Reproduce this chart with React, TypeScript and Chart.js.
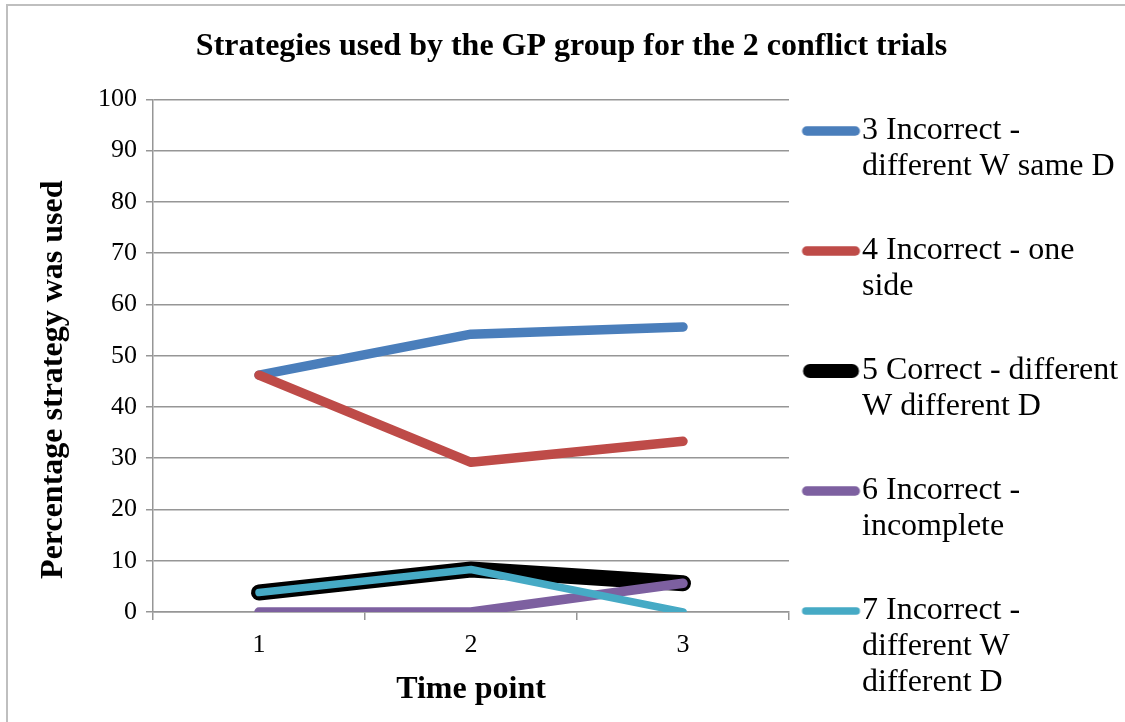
import React, { useEffect, useRef } from 'react';
import { Chart, registerables } from 'chart.js';

Chart.register(...registerables);

const categories = ['1', '2', '3'];
const seriesNames = [
  '3 Incorrect - different W same D',
  '4 Incorrect - one side',
  '5 Correct - different W different D',
  '6 Incorrect - incomplete',
  '7 Incorrect - different W different D',
];
const legendLines = [
  ['3 Incorrect -', 'different W same D', ''],
  ['4 Incorrect - one', 'side', ''],
  ['5 Correct - different', 'W different D', ''],
  ['6 Incorrect -', 'incomplete', ''],
  ['7 Incorrect -', 'different W', 'different D'],
];
const incorrectDiffWSameD = [46.2, 54.2, 55.6];
const incorrectOneSide = [46.2, 29.2, 33.3];
const correctDiffWDiffD = [3.8, 8.3, 5.6];
const incorrectIncomplete = [0, 0, 5.6];
const incorrectDiffWDiffD = [3.8, 8.3, 0];
const yTicks = [0, 10, 20, 30, 40, 50, 60, 70, 80, 90, 100];

const seriesValues = [
  incorrectDiffWSameD,
  incorrectOneSide,
  correctDiffWDiffD,
  incorrectIncomplete,
  incorrectDiffWDiffD,
];
const colors = ['#4A7EBB', '#BE4B48', '#000000', '#7D60A0', '#46AAC5'];
const widths = [9.5, 9.5, 16, 9.5, 7.5];

const FONT = '"Liberation Serif", "Times New Roman", serif';
const GRID = '#969696';
const NB = '\u00A0';

function makeSample(color: string, width: number) {
  const c = document.createElement('canvas');
  c.width = 76;
  c.height = 20;
  const g = c.getContext('2d')!;
  g.strokeStyle = color;
  g.lineWidth = Math.min(width, 14);
  g.lineCap = 'round';
  g.beginPath();
  g.moveTo(16.5 + width / 2, 10);
  g.lineTo(74.5 - width / 2, 10);
  g.stroke();
  return c;
}

const framePlugin = {
  id: 'frame',
  beforeDraw(chart: any) {
    const ctx = chart.ctx;
    ctx.save();
    ctx.fillStyle = '#ffffff';
    ctx.fillRect(0, 0, chart.width, chart.height);
    ctx.strokeStyle = '#bfbfbf';
    ctx.lineWidth = 2;
    ctx.beginPath();
    ctx.moveTo(7, chart.height + 5);
    ctx.lineTo(7, 5);
    ctx.lineTo(chart.width + 5, 5);
    ctx.stroke();
    ctx.restore();
  },
};

export default function App() {
  const ref = useRef<HTMLCanvasElement>(null);
  useEffect(() => {
    if (!ref.current) return;
    const samples = colors.map((c, i) => makeSample(c, widths[i]));
    const chart = new Chart(ref.current, {
      type: 'line',
      data: {
        labels: categories,
        datasets: seriesValues.map((vals, i) => ({
          label: seriesNames[i],
          data: vals,
          borderColor: colors[i],
          backgroundColor: colors[i],
          borderWidth: widths[i],
          borderCapStyle: 'round',
          borderJoinStyle: 'round',
          pointRadius: 0,
          pointHoverRadius: 0,
          tension: 0,
          fill: false,
          order: seriesValues.length - 1 - i,
        })),
      },
      options: {
        responsive: false,
        animation: false,
        devicePixelRatio: 1,
        layout: { padding: { left: 18, right: 0, top: 0, bottom: 0 } },
        plugins: {
          tooltip: { enabled: false },
          title: {
            display: true,
            text: 'Strategies used by the GP group for the 2 conflict trials',
            color: '#000',
            font: { family: FONT, size: 32, weight: 'bold', lineHeight: 1.2 },
            padding: { top: 28, bottom: 33 },
          },
          legend: {
            display: true,
            position: 'right',
            align: 'start',
            maxWidth: 336,
            title: {
              display: true,
              text: ' ',
              font: { family: FONT, size: 10, lineHeight: 1 },
              padding: { top: 93, bottom: 0 },
            },
            labels: {
              usePointStyle: true,
              pointStyleWidth: 45,
              padding: 12,
              color: '#000',
              font: { family: FONT, size: 32, lineHeight: 1.125 },
              generateLabels: (ch: any) => {
                const items = (Chart.defaults.plugins.legend.labels as any).generateLabels(ch);
                return items
                  .sort((a: any, b: any) => a.datasetIndex - b.datasetIndex)
                  .map((it: any) => ({
                    ...it,
                    text: legendLines[it.datasetIndex],
                    pointStyle: samples[it.datasetIndex],
                    fontColor: '#000',
                  }));
              },
            },
          },
        },
        scales: {
          x: {
            type: 'category',
            offset: true,
            afterFit: (s: any) => {
              s.height = 110;
            },
            grid: {
              offset: true,
              drawOnChartArea: false,
              drawTicks: true,
              tickLength: 8,
              color: GRID,
              lineWidth: 1.5,
            },
            border: { display: true, color: GRID, width: 1.5 },
            ticks: {
              color: '#000',
              padding: 10,
              font: { family: FONT, size: 26, lineHeight: 1.2 },
            },
            title: {
              display: true,
              text: 'Time point',
              color: '#000',
              font: { family: FONT, size: 32, weight: 'bold', lineHeight: 1.2 },
              padding: { top: 0, bottom: 13 },
            },
          },
          y: {
            min: 0,
            max: 100,
            afterFit: (s: any) => {
              s.width = 135;
            },
            afterBuildTicks: (s: any) => {
              s.ticks = yTicks.map((v) => ({ value: v }));
            },
            grid: {
              drawTicks: true,
              tickLength: 7,
              color: GRID,
              lineWidth: 1.5,
            },
            border: { display: true, color: GRID, width: 1.5 },
            ticks: {
              color: '#000',
              padding: 9,
              font: { family: FONT, size: 26, lineHeight: 1.2 },
            },
            title: {
              display: true,
              text: 'Percentage strategy was used' + NB.repeat(6),
              color: '#000',
              font: { family: FONT, size: 32, weight: 'bold', lineHeight: 1.2 },
              padding: { top: 17, bottom: 0 },
            },
          },
        },
      },
      plugins: [framePlugin],
    } as any);
    return () => chart.destroy();
  }, []);
  return (
    <div style={{ position: 'absolute', left: 0, top: 0, width: 1125, height: 722, background: '#fff' }}>
      <canvas ref={ref} width={1125} height={722} />
    </div>
  );
}
